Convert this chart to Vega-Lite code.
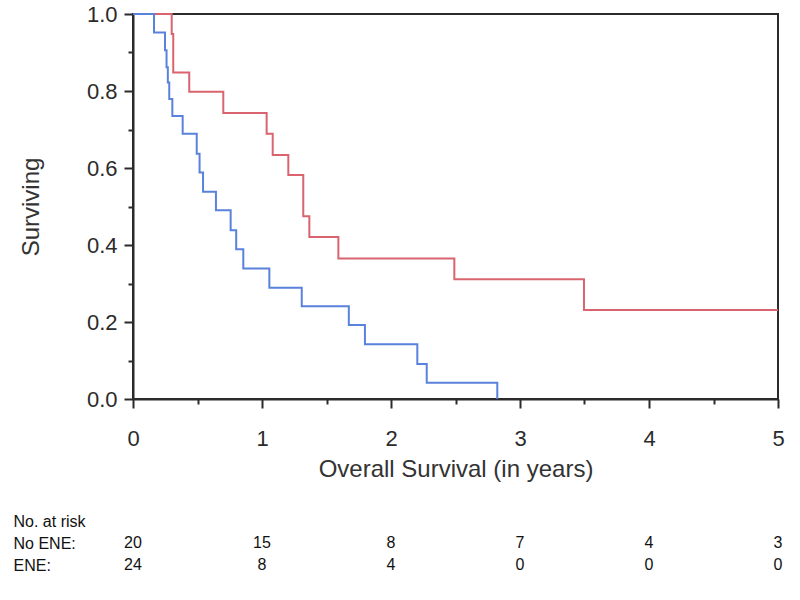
{
  "$schema": "https://vega.github.io/schema/vega-lite/v6.json",
  "padding": {"left": 13, "top": 2, "right": 10, "bottom": 5},
  "background": "white",
  "spacing": 28,
  "config": {
    "font": "Liberation Sans",
    "view": {"stroke": "#2b2b2b", "strokeWidth": 2},
    "axis": {
      "domainColor": "#2b2b2b", "domainWidth": 2,
      "tickColor": "#2b2b2b", "tickWidth": 2,
      "grid": false,
      "labelFont": "Liberation Sans", "titleFont": "Liberation Sans",
      "labelColor": "#2b2b2b", "titleColor": "#333333",
      "titleFontWeight": "normal", "labelOverlap": false
    }
  },
  "datasets": {
    "km": [
      {"group": "No ENE", "t": 0, "s": 1},
      {"group": "No ENE", "t": 0.300, "s": 0.948},
      {"group": "No ENE", "t": 0.312, "s": 0.848},
      {"group": "No ENE", "t": 0.436, "s": 0.798},
      {"group": "No ENE", "t": 0.700, "s": 0.743},
      {"group": "No ENE", "t": 1.036, "s": 0.689},
      {"group": "No ENE", "t": 1.083, "s": 0.634},
      {"group": "No ENE", "t": 1.204, "s": 0.582},
      {"group": "No ENE", "t": 1.320, "s": 0.475},
      {"group": "No ENE", "t": 1.367, "s": 0.421},
      {"group": "No ENE", "t": 1.592, "s": 0.365},
      {"group": "No ENE", "t": 2.491, "s": 0.311},
      {"group": "No ENE", "t": 3.496, "s": 0.231},
      {"group": "No ENE", "t": 5.0, "s": 0.231},
      {"group": "ENE", "t": 0, "s": 1},
      {"group": "ENE", "t": 0.163, "s": 0.952},
      {"group": "ENE", "t": 0.248, "s": 0.906},
      {"group": "ENE", "t": 0.260, "s": 0.862},
      {"group": "ENE", "t": 0.270, "s": 0.822},
      {"group": "ENE", "t": 0.281, "s": 0.779},
      {"group": "ENE", "t": 0.305, "s": 0.735},
      {"group": "ENE", "t": 0.385, "s": 0.689},
      {"group": "ENE", "t": 0.494, "s": 0.637},
      {"group": "ENE", "t": 0.516, "s": 0.588},
      {"group": "ENE", "t": 0.543, "s": 0.538},
      {"group": "ENE", "t": 0.643, "s": 0.490},
      {"group": "ENE", "t": 0.757, "s": 0.438},
      {"group": "ENE", "t": 0.800, "s": 0.389},
      {"group": "ENE", "t": 0.855, "s": 0.339},
      {"group": "ENE", "t": 1.057, "s": 0.289},
      {"group": "ENE", "t": 1.308, "s": 0.241},
      {"group": "ENE", "t": 1.673, "s": 0.192},
      {"group": "ENE", "t": 1.798, "s": 0.142},
      {"group": "ENE", "t": 2.204, "s": 0.091},
      {"group": "ENE", "t": 2.277, "s": 0.042},
      {"group": "ENE", "t": 2.824, "s": 0}
    ],
    "risk": [
      {"row": "No ENE:", "t": 0, "n": 20},
      {"row": "No ENE:", "t": 1, "n": 15},
      {"row": "No ENE:", "t": 2, "n": 8},
      {"row": "No ENE:", "t": 3, "n": 7},
      {"row": "No ENE:", "t": 4, "n": 4},
      {"row": "No ENE:", "t": 5, "n": 3},
      {"row": "ENE:", "t": 0, "n": 24},
      {"row": "ENE:", "t": 1, "n": 8},
      {"row": "ENE:", "t": 2, "n": 4},
      {"row": "ENE:", "t": 3, "n": 0},
      {"row": "ENE:", "t": 4, "n": 0},
      {"row": "ENE:", "t": 5, "n": 0}
    ]
  },
  "vconcat": [
    {
      "width": 645,
      "height": 385,
      "data": {"name": "km"},
      "encoding": {
        "x": {
          "field": "t", "type": "quantitative",
          "scale": {"domain": [0, 5], "nice": false, "zero": false},
          "axis": {
            "values": [0, 0.5, 1, 1.5, 2, 2.5, 3, 3.5, 4, 4.5, 5],
            "labelExpr": "datum.value % 1 === 0 ? format(datum.value, 'd') : ''",
            "tickSize": {"condition": {"test": "datum.value % 1 === 0", "value": 9}, "value": 5},
            "labelFontSize": 22,
            "labelPadding": 20,
            "labelFlush": false,
            "title": "Overall Survival (in years)",
            "titleFontSize": 24,
            "titlePadding": 8
          }
        },
        "y": {
          "field": "s", "type": "quantitative",
          "scale": {"domain": [0, 1], "nice": false, "zero": false},
          "axis": {
            "values": [0, 0.1, 0.2, 0.3, 0.4, 0.5, 0.6, 0.7, 0.8, 0.9, 1],
            "labelExpr": "round(datum.value * 10) % 2 === 0 ? format(datum.value, '.1f') : ''",
            "tickSize": {"condition": {"test": "round(datum.value * 10) % 2 === 0", "value": 9}, "value": 5},
            "labelFontSize": 22,
            "labelPadding": 7,
            "labelFlush": false,
            "title": "Surviving",
            "titleFontSize": 24,
            "titlePadding": 43
          }
        }
      },
      "layer": [
        {
          "transform": [{"filter": "datum.group === 'No ENE'"}],
          "mark": {"type": "line", "interpolate": "step-after", "color": "#d9646f", "strokeWidth": 2}
        },
        {
          "transform": [{"filter": "datum.group === 'ENE'"}],
          "mark": {"type": "line", "interpolate": "step-after", "color": "#5a82dc", "strokeWidth": 2}
        }
      ]
    },
    {
      "width": 645,
      "height": 66,
      "data": {"name": "risk"},
      "view": {"stroke": null},
      "mark": {"type": "text", "font": "Liberation Sans", "fontSize": 16, "color": "#111111"},
      "encoding": {
        "x": {
          "field": "t", "type": "quantitative",
          "scale": {"domain": [0, 5], "nice": false, "zero": false},
          "axis": null
        },
        "y": {
          "field": "row", "type": "nominal",
          "scale": {"domain": ["No. at risk", "No ENE:", "ENE:"], "paddingInner": 0, "paddingOuter": 0},
          "axis": {
            "title": null, "domain": false, "ticks": false, "tickSize": 0,
            "labelAlign": "left", "labelPadding": 120,
            "labelFontSize": 16, "labelColor": "#111111", "labelFont": "Liberation Sans"
          }
        },
        "text": {"field": "n", "type": "quantitative"}
      }
    }
  ]
}
